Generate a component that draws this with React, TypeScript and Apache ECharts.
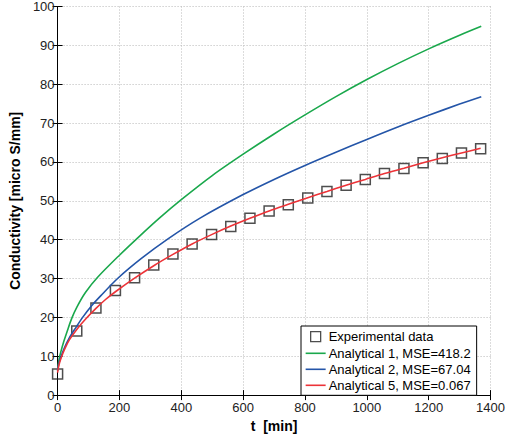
import React, { useEffect, useRef } from "react";
import * as echarts from "echarts";

const expT = [0, 62, 124, 187, 249, 311, 373, 435, 498, 560, 622, 684, 746, 809, 871, 933, 995, 1057, 1120, 1182, 1244, 1306, 1368];
const expC = [5.4, 16.5, 22.4, 26.9, 30.2, 33.5, 36.3, 38.9, 41.3, 43.4, 45.5, 47.4, 49.0, 50.7, 52.4, 54.0, 55.5, 57.0, 58.3, 59.8, 60.9, 62.3, 63.4];

const a1T = [0, 2, 5, 10, 20, 30, 46, 62, 90, 128, 200, 261, 330, 400, 500, 600, 700, 800, 900, 1000, 1100, 1200, 1300, 1370];
const a1C = [6.3, 7.8, 9.3, 11, 13.8, 16.2, 19.8, 22.6, 26.4, 30.2, 36.0, 40.6, 45.6, 50.3, 56.5, 62.0, 67.2, 72.1, 76.8, 81.2, 85.3, 89.1, 92.6, 94.9];

const a2T = [0, 2, 5, 10, 20, 37, 60, 81, 110, 140, 194, 270, 357, 462, 600, 700, 800, 900, 1000, 1100, 1200, 1300, 1370];
const a2C = [6.3, 7.3, 8.4, 9.7, 11.8, 14.6, 17.5, 20, 23, 25.6, 30, 35.1, 40.2, 45.6, 51.6, 55.5, 59.1, 62.5, 65.8, 69.0, 72.0, 74.9, 76.8];

const a5T = [0, 2, 5, 10, 16, 25, 37, 62, 90, 124, 155, 187, 249, 311, 373, 435, 498, 560, 622, 684, 746, 809, 871, 933, 995, 1057, 1120, 1182, 1244, 1306, 1368];
const a5C = [5.8, 6.8, 7.9, 9.2, 10.5, 12.2, 14.1, 16.9, 19.5, 22.3, 24.6, 26.6, 30.1, 33.3, 36.2, 38.9, 41.3, 43.5, 45.5, 47.4, 49.1, 50.8, 52.4, 54, 55.5, 57, 58.4, 59.8, 61.1, 62.3, 63.5];

const seriesNames = ["Experimental data", "Analytical 1, MSE=418.2", "Analytical 2, MSE=67.04", "Analytical 5, MSE=0.067"];
const xTicks = { min: 0, max: 1400, interval: 200 };
const yTicks = { min: 0, max: 100, interval: 10 };

const zip = (t: number[], c: number[]) => t.map((v, i) => [v, c[i]]);

const squareIcon = "path://M0,0M20,14M5,2H15V12H5Z";
const lineIcon = "path://M0,0M20,14M0,6.2H20V7.8H0Z";

export default function App() {
  const ref = useRef<HTMLDivElement>(null);
  useEffect(() => {
    if (!ref.current) return;
    const chart = echarts.init(ref.current, null, { renderer: "svg" });
    const font = "'Liberation Sans', Arial, Helvetica, sans-serif";
    const gridLine = { show: true, lineStyle: { color: "#b8b8b8", type: [1, 2] as any, width: 1 } };
    const hiddenAxisBase = {
      axisLabel: { show: false },
      splitLine: { show: false },
      axisLine: { show: true, lineStyle: { color: "#000", width: 1 } },
      axisTick: { show: true, inside: true, length: 5, lineStyle: { color: "#000" } },
    };
    const plain = (v: number) => String(v);
    chart.setOption({
      animation: false,
      textStyle: { fontFamily: font },
      grid: { left: 56, right: 14, top: 5, bottom: 40, containLabel: false },
      legend: {
        orient: "vertical",
        left: 301,
        top: 326,
        backgroundColor: "#fff",
        borderColor: "#000",
        borderWidth: 1,
        borderRadius: 0,
        padding: [3, 6, 3, 4],
        itemGap: 2,
        itemWidth: 20,
        itemHeight: 14,
        textStyle: { fontFamily: font, fontSize: 13, color: "#000", padding: [0, 0, 0, -2] },
        data: [
          { name: seriesNames[0], icon: squareIcon, itemStyle: { color: "rgba(0,0,0,0)", borderColor: "#222", borderWidth: 1.3 } },
          { name: seriesNames[1], icon: lineIcon, itemStyle: { color: "#1aa84c", borderWidth: 0 } },
          { name: seriesNames[2], icon: lineIcon, itemStyle: { color: "#2455a8", borderWidth: 0 } },
          { name: seriesNames[3], icon: lineIcon, itemStyle: { color: "#ec3338", borderWidth: 0 } },
        ],
      },
      xAxis: [
        {
          type: "value",
          ...xTicks,
          name: "t  [min]",
          nameLocation: "middle",
          nameGap: 19,
          nameTextStyle: { fontFamily: font, fontSize: 14, fontWeight: "bold", color: "#000" },
          axisLine: { show: true, onZero: false, lineStyle: { color: "#000", width: 1 } },
          axisTick: { show: true, inside: true, length: 5, lineStyle: { color: "#000" } },
          axisLabel: { fontFamily: font, fontSize: 13, color: "#222", margin: 6, formatter: plain },
          splitLine: gridLine,
        },
        { type: "value", position: "top", ...xTicks, ...hiddenAxisBase },
      ],
      yAxis: [
        {
          type: "value",
          ...yTicks,
          name: "Conductivity [micro S/mm]",
          nameLocation: "middle",
          nameGap: 31,
          nameTextStyle: { fontFamily: font, fontSize: 14, fontWeight: "bold", color: "#000" },
          axisLine: { show: true, onZero: false, lineStyle: { color: "#000", width: 1 } },
          axisTick: { show: true, inside: true, length: 5, lineStyle: { color: "#000" } },
          axisLabel: { fontFamily: font, fontSize: 13, color: "#222", margin: 3, formatter: plain },
          splitLine: gridLine,
        },
        { type: "value", position: "right", ...yTicks, ...hiddenAxisBase },
      ],
      series: [
        {
          name: seriesNames[0],
          type: "scatter",
          symbol: "rect",
          symbolSize: 10,
          z: 2,
          itemStyle: { color: "rgba(0,0,0,0)", borderColor: "#222", borderWidth: 1.5 },
          data: zip(expT, expC),
        },
        {
          name: seriesNames[1],
          type: "line",
          symbol: "none",
          smooth: 0.3,
          z: 3,
          lineStyle: { color: "#1aa84c", width: 1.6 },
          itemStyle: { color: "#1aa84c" },
          data: zip(a1T, a1C),
        },
        {
          name: seriesNames[2],
          type: "line",
          symbol: "none",
          smooth: 0.3,
          z: 3,
          lineStyle: { color: "#2455a8", width: 1.6 },
          itemStyle: { color: "#2455a8" },
          data: zip(a2T, a2C),
        },
        {
          name: seriesNames[3],
          type: "line",
          symbol: "none",
          smooth: 0.3,
          z: 3,
          lineStyle: { color: "#ec3338", width: 1.6 },
          itemStyle: { color: "#ec3338" },
          data: zip(a5T, a5C),
        },
      ],
    });
    return () => chart.dispose();
  }, []);
  return <div ref={ref} style={{ width: 508, height: 438, position: "absolute", left: 0, top: 0 }} />;
}
